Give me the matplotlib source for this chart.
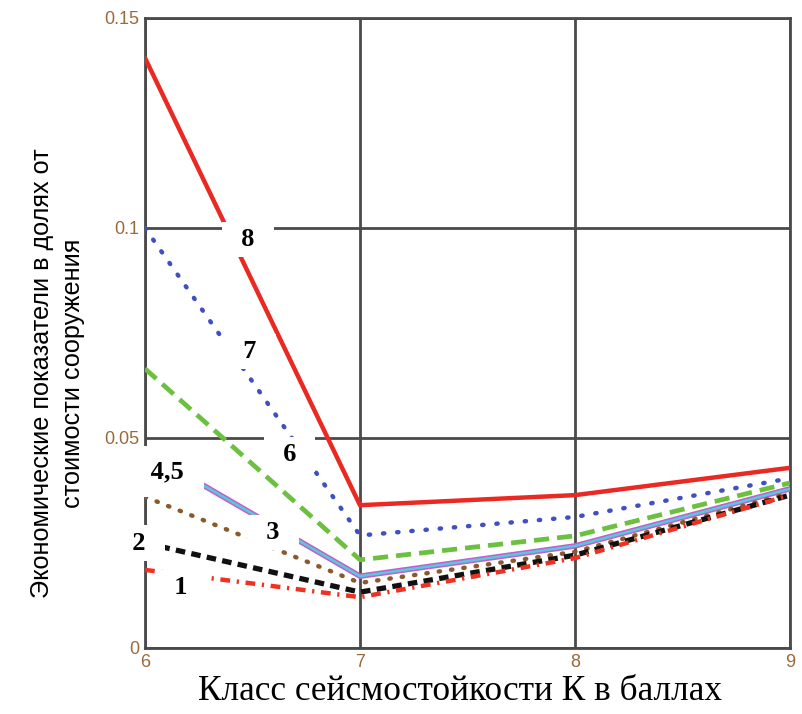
import matplotlib
matplotlib.use("Agg")
import matplotlib.pyplot as plt
from matplotlib import font_manager

# ---- data ----
k_class = [6, 7, 8, 9]
s1 = [0.0186, 0.0121, 0.0214, 0.0364]
s2 = [0.0250, 0.0133, 0.0221, 0.0364]
s3 = [0.0360, 0.0155, 0.0229, 0.0369]
s4 = [0.0468, 0.0171, 0.0243, 0.0379]
s5 = [0.0468, 0.0171, 0.0243, 0.0379]
s6 = [0.0665, 0.0210, 0.0267, 0.0393]
s7 = [0.1000, 0.0268, 0.0312, 0.0404]
s8 = [0.1405, 0.0340, 0.0364, 0.0429]

x_ticks = [6, 7, 8, 9]
x_tick_labels = ["6", "7", "8", "9"]
y_ticks = [0, 0.05, 0.1, 0.15]
y_tick_labels = ["0", "0.05", "0.1", "0.15"]

curve_labels = ["8", "7", "6", "4,5", "3", "2", "1"]
label_pos = [(6.479, 0.0973), (6.488, 0.0705), (6.672, 0.0460), (6.102, 0.0420),
             (6.595, 0.0274), (5.972, 0.0250), (6.167, 0.0145)]


def pick_family(cands, default):
    for c in cands:
        try:
            font_manager.findfont(font_manager.FontProperties(family=c),
                                  fallback_to_default=False)
            return c
        except Exception:
            pass
    return default


narrow = pick_family(["Liberation Sans Narrow", "Arial Narrow", "DejaVu Sans Condensed"],
                     "Liberation Sans")

fig = plt.figure(figsize=(8.03, 7.14), dpi=100)
ax = fig.add_axes([145/803, 1-648/714, (790-145)/803, (648-18)/714])

grid_c = "#4a4a4a"
ax.set_xlim(6, 9)
ax.set_ylim(0, 0.15)
ax.set_xticks(x_ticks)
ax.set_yticks(y_ticks)
ax.grid(True, color=grid_c, lw=2.0, zorder=1)
for sp in ax.spines.values():
    sp.set_color(grid_c)
    sp.set_linewidth(2.0)
    sp.set_zorder(1.5)

tick_c = "#9a6a3a"
ax.set_xticklabels(x_tick_labels, color=tick_c, fontsize=13, family=narrow)
ax.set_yticklabels(y_tick_labels, color=tick_c, fontsize=13, family=narrow)
ax.tick_params(length=0, pad=4)

ax.plot(k_class, s8, color="#ea2a22", lw=3.2, ls="-", zorder=3, solid_capstyle="round")
ax.plot(k_class, s7, color="#4050c0", lw=3.2, ls=(0, (0.3, 2.9)), zorder=3,
        dash_capstyle="round")
ax.plot(k_class, s6, color="#6cc040", lw=3.4, ls=(0, (3.2, 1.7)), zorder=3)
ax.plot(k_class, s4, color="#c060c8", lw=4.0, ls="-", zorder=3)
ax.plot(k_class, s5, color="#58c8e0", lw=1.8, ls="-", zorder=3.1)
ax.plot(k_class, s3, color="#8b5a2b", lw=3.2, ls=(0, (0.3, 2.5)), zorder=3,
        dash_capstyle="round")
ax.plot(k_class, s2, color="#111111", lw=3.8, ls=(0, (1.8, 1.2)), zorder=3)
ax.plot(k_class, s1, color="#f03020", lw=3.2, ls=(0, (2.2, 1.5, 0.5, 1.5)), zorder=3)

for txt, (lx, ly) in zip(curve_labels, label_pos):
    if txt == "4,5":
        s, pad = " " + txt + " ", 0.53
    else:
        s, pad = "  " + txt + "  ", 0.23
    ax.text(lx, ly, s, ha="center", va="center", fontsize=19,
            fontweight="bold", family="Liberation Serif", zorder=5, clip_on=False,
            bbox=dict(boxstyle="square,pad=%.2f" % pad, fc="white", ec="none"))

xl = fig.text(460/803, 1-692/714, "Класс сейсмостойкости К в баллах", ha="center",
              va="center", fontsize=20, family="Liberation Serif")
yl1 = fig.text(42/803, 1-373/714, "Экономические показатели в долях от", ha="center",
               va="center", rotation=90, fontsize=20, family=narrow)
yl2 = fig.text(73/803, 1-373/714, "стоимости сооружения", ha="center",
               va="center", rotation=90, fontsize=20, family=narrow)

# fit text sizes to the reference extents
fig.canvas.draw()
r = fig.canvas.get_renderer()
w = xl.get_window_extent(r).width
xl.set_fontsize(20 * 523 / w)
h = yl1.get_window_extent(r).height
ys = 20 * 450 / h
yl1.set_fontsize(ys)
yl2.set_fontsize(ys)

fig.savefig("out.png", dpi=100)
